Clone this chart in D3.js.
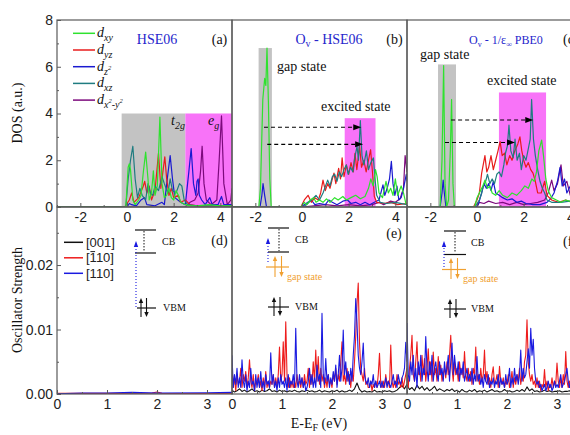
<!DOCTYPE html>
<html><head><meta charset="utf-8">
<script src="https://cdn.jsdelivr.net/npm/d3@7"></script>
<style>body{margin:0;background:#fff}svg{display:block}</style>
</head><body>
<script>
// ---------------- DATA ----------------
// DOS curves: [energy (eV), DOS (a.u.)]
const dosA_xy=[[-3,0],[-0.05,0],[0.05,1.7],[0.1,1.85],[0.15,1.6],[0.25,0.3],[0.35,0.1],[0.5,0.3],[0.6,0.5],[0.7,1.5],[0.8,2.35],[0.9,1.2],[0.95,0.3],[1.05,0.6],[1.13,1.55],[1.2,0.5],[1.3,0.9],[1.41,3.85],[1.5,1.0],[1.6,0.4],[1.7,0.5],[1.8,0.8],[1.9,0.4],[2.0,0.3],[2.1,0.7],[2.2,0.5],[2.3,0.2],[2.5,0.1],[2.7,0.05],[3.0,0.05],[3.5,0.1],[4.0,0.05],[4.5,0.05]];
const dosA_yz=[[-3,0],[-0.1,0],[0.1,0.3],[0.2,0.6],[0.3,0.2],[0.5,0.4],[0.7,0.9],[0.76,1.1],[0.85,0.6],[0.95,0.9],[1.05,0.3],[1.2,0.7],[1.35,2.3],[1.45,0.8],[1.55,1.6],[1.62,2.15],[1.7,1.2],[1.8,0.5],[1.9,0.8],[2.0,0.4],[2.2,0.5],[2.3,0.2],[2.5,0.3],[2.7,0.1],[3.0,0.05],[4.5,0.05]];
const dosA_z2=[[-3,0],[0,0],[0.1,0.15],[0.2,0.1],[0.4,0.05],[0.6,0.3],[0.75,0.4],[0.85,0.1],[1.2,0.05],[1.5,0.2],[1.6,0.1],[1.75,1.4],[1.85,2.2],[1.95,1.2],[2.05,0.4],[2.3,0.2],[2.5,0.1],[2.65,1.5],[2.75,2.5],[2.85,1.0],[2.95,0.5],[3.0,1.1],[3.05,1.2],[3.1,0.5],[3.2,0.3],[3.35,0.1],[3.55,0.4],[3.65,0.1],[3.9,0.1],[4.05,0.45],[4.15,0.1],[4.5,0.1]];
const dosA_xz=[[-3,0],[-0.05,0],[0.05,1.2],[0.15,2.0],[0.25,2.6],[0.35,1.2],[0.45,0.4],[0.55,0.8],[0.65,0.5],[0.8,0.3],[0.9,1.0],[1.0,0.6],[1.1,0.5],[1.2,0.9],[1.35,0.7],[1.5,1.3],[1.6,1.0],[1.75,0.6],[1.85,1.2],[1.95,0.7],[2.1,0.6],[2.25,1.0],[2.35,0.9],[2.45,0.3],[2.6,0.1],[3,0.05],[4.5,0.05]];
const dosA_x2y2=[[-3,0],[2.5,0],[2.7,0.2],[2.9,0.3],[3.05,0.6],[3.15,1.5],[3.22,2.6],[3.3,1.0],[3.4,0.3],[3.6,0.1],[3.85,0.3],[3.95,2.0],[4.05,3.9],[4.15,1.0],[4.3,0.1],[4.45,0.3],[4.5,0.8]];

const dosB_xy=[[-3,0],[-1.85,0],[-1.78,0.8],[-1.68,4.6],[-1.6,5.5],[-1.55,5.2],[-1.5,6.8],[-1.44,4.5],[-1.38,1.2],[-1.32,0],[-0.05,0],[0.1,0.2],[0.2,0.1],[0.35,0.3],[0.5,0.4],[0.6,0.2],[0.75,0.3],[0.9,0.2],[1.05,0.35],[1.2,0.2],[1.4,0.4],[1.55,0.3],[1.75,0.45],[1.9,0.3],[2.1,0.4],[2.3,0.5],[2.5,0.35],[2.7,0.45],[2.85,0.8],[2.95,1.2],[3.05,0.9],[3.15,1.6],[3.22,1.3],[3.3,0.6],[3.45,0.4],[3.6,1.1],[3.7,0.6],[3.8,0.8],[3.9,0.5],[4.0,1.2],[4.1,0.5],[4.25,0.9],[4.35,0.6],[4.45,0.15],[4.5,0.1]];
const dosB_yz=[[-3,0],[-0.05,0],[0.1,0.3],[0.26,0.5],[0.4,0.2],[0.55,0.4],[0.7,0.3],[0.8,0.6],[0.9,1.15],[1.0,0.7],[1.1,1.0],[1.2,0.8],[1.3,1.2],[1.37,1.45],[1.45,1.0],[1.57,1.65],[1.65,1.2],[1.72,2.1],[1.8,1.3],[1.9,1.8],[2.0,1.4],[2.1,1.9],[2.2,1.5],[2.27,2.3],[2.35,1.6],[2.47,2.6],[2.55,1.7],[2.65,2.0],[2.75,1.5],[2.85,2.0],[2.94,2.45],[3.02,1.5],[3.1,0.45],[3.2,0.2],[3.5,0.15],[3.8,0.2],[4.1,0.1],[4.5,0.15]];
const dosB_z2=[[-3,0],[-1.8,0],[-1.72,0.5],[-1.67,1.0],[-1.6,0.5],[-1.52,0],[-0.05,0],[0.1,0.1],[0.25,0.2],[0.4,0.3],[0.55,0.1],[0.75,0.15],[1.0,0.1],[1.15,0.3],[1.3,0.2],[1.5,0.1],[1.75,0.25],[1.95,0.3],[2.1,0.15],[2.3,0.2],[2.5,0.1],[2.7,0.2],[2.9,0.1],[3.1,0.2],[3.3,0.3],[3.47,0.95],[3.55,0.5],[3.65,0.8],[3.75,1.2],[3.83,1.95],[3.9,1.0],[3.98,0.5],[4.07,0.9],[4.15,0.3],[4.25,0.4],[4.35,0.8],[4.47,1.4],[4.5,1.1]];
const dosB_xz=[[-3,0],[0,0],[0.2,0.1],[0.4,0.3],[0.6,0.5],[0.75,0.3],[0.9,0.6],[1.1,1.15],[1.2,0.9],[1.3,1.3],[1.4,1.4],[1.5,1.1],[1.6,1.5],[1.7,1.3],[1.8,1.6],[1.9,1.8],[1.98,1.4],[2.08,1.7],[2.18,1.5],[2.26,2.1],[2.36,2.6],[2.42,2.0],[2.5,3.7],[2.57,2.2],[2.65,1.8],[2.76,2.4],[2.85,1.6],[2.95,1.9],[3.06,2.1],[3.13,1.2],[3.2,0.5],[3.35,0.2],[3.6,0.15],[4.0,0.2],[4.5,0.1]];
const dosB_x2y2=[[-3,0],[0,0],[0.5,0.05],[1.0,0.1],[1.5,0.05],[2.0,0.1],[2.5,0.05],[3.0,0.1],[3.3,0.2],[3.5,0.1],[3.8,0.25],[4.0,0.2],[4.2,0.35],[4.35,0.8],[4.42,2.2],[4.5,1.5]];

const dosC_xy=[[-3,0],[-1.58,0],[-1.5,2.0],[-1.43,6.05],[-1.37,1.0],[-1.3,0],[-1.22,0.3],[-1.14,2.5],[-1.09,4.6],[-1.03,1.0],[-0.97,0],[-0.1,0],[0.0,0.4],[0.15,0.7],[0.25,0.9],[0.34,1.15],[0.45,0.8],[0.55,0.9],[0.65,0.6],[0.8,0.5],[0.95,0.7],[1.1,0.5],[1.3,0.4],[1.5,0.6],[1.7,0.5],[1.9,0.7],[2.05,0.9],[2.2,0.8],[2.35,1.2],[2.45,1.1],[2.55,1.5],[2.65,2.4],[2.77,2.86],[2.85,2.2],[2.95,1.2],[3.05,0.7],[3.2,0.4],[3.4,0.3],[3.6,0.2],[3.8,0.3],[4.1,0.2],[4.5,0.1]];
const dosC_yz=[[-3,0],[-0.15,0],[0.0,0.3],[0.1,0.6],[0.2,1.45],[0.34,2.2],[0.42,1.5],[0.5,1.7],[0.6,2.2],[0.7,1.6],[0.8,2.0],[0.9,2.4],[0.99,2.8],[1.08,2.2],[1.18,2.3],[1.28,1.8],[1.4,2.2],[1.5,2.0],[1.62,2.4],[1.75,2.7],[1.84,3.0],[1.92,2.4],[2.0,2.0],[2.1,1.7],[2.2,1.9],[2.3,1.6],[2.4,1.45],[2.5,1.1],[2.6,0.6],[2.75,0.6],[2.9,1.1],[3.0,0.5],[3.2,0.3],[3.5,0.2],[3.8,0.3],[4.2,0.15],[4.5,0.2]];
const dosC_z2=[[-3,0],[-1.58,0],[-1.5,0.6],[-1.45,1.15],[-1.4,0.6],[-1.33,0],[-0.05,0],[0.05,0.1],[0.2,0.6],[0.3,1.0],[0.4,0.8],[0.5,1.0],[0.6,0.7],[0.7,1.1],[0.8,0.6],[0.95,0.5],[1.1,0.4],[1.3,0.3],[1.5,0.35],[1.7,0.2],[1.9,0.25],[2.1,0.15],[2.4,0.1],[2.7,0.1],[3.0,0.2],[3.15,0.35],[3.3,0.6],[3.45,1.1],[3.56,1.7],[3.65,0.9],[3.75,1.2],[3.85,0.6],[4.0,0.9],[4.15,0.4],[4.3,0.7],[4.5,0.4]];
const dosC_xz=[[-3,0],[-0.1,0],[0.1,0.3],[0.2,0.6],[0.27,0.9],[0.37,1.1],[0.45,1.4],[0.55,1.0],[0.65,1.2],[0.75,1.0],[0.85,1.4],[0.95,1.5],[1.05,1.3],[1.15,1.8],[1.22,2.3],[1.3,2.6],[1.37,3.5],[1.45,2.4],[1.55,2.1],[1.63,2.9],[1.72,2.0],[1.82,2.3],[1.9,1.6],[2.0,2.2],[2.1,2.0],[2.2,2.5],[2.28,2.9],[2.34,4.6],[2.42,2.9],[2.5,2.2],[2.6,1.6],[2.7,1.1],[2.8,0.8],[2.9,0.6],[3.0,0.3],[3.2,0.2],[3.6,0.2],[4.0,0.25],[4.5,0.2]];
const dosC_x2y2=[[-3,0],[0,0],[0.1,0.2],[0.3,0.15],[0.5,0.25],[0.8,0.15],[1.1,0.2],[1.4,0.1],[1.7,0.2],[2.0,0.1],[2.3,0.15],[2.6,0.2],[2.9,0.3],[3.05,0.6],[3.2,1.15],[3.3,0.7],[3.45,1.0],[3.6,1.8],[3.7,0.9],[3.85,1.1],[4.0,0.5],[4.2,0.4],[4.5,0.3]];

// shaded regions [E start, E end, DOS top]
const shadeA_gray=[-0.23,2.5,4], shadeA_mag=[2.5,4.5,4];
const shadeB_gray=[-1.86,-1.29,6.8], shadeB_mag=[1.83,3.15,3.8];
const shadeC_gray=[-1.67,-0.9,6.1], shadeC_mag=[0.94,2.96,4.9];
// dashed transition arrows [E from, E to, DOS level]
const arrowsB=[[-1.63,2.54,3.41],[-1.49,2.62,2.68]];
const arrowsC=[[-1.11,2.41,3.72],[-1.37,1.63,2.76]];

// Oscillator strength (units of 1e-3)
const oscD_001=[[0,0],[3.5,0]];
const oscD_1m10=[[0,0.1],[1.0,0.1],[1.9,0.15],[2.0,0.3],[2.1,0.1],[3.5,0.05]];
const oscD_110=[[0,0.05],[0.5,0.15],[1.0,0.15],[1.5,0.25],[2.0,0.15],[3.0,0.2],[3.5,0.25]];
const oscStep=0.025, oscStepBlack=0.05;
const oscE_1m10=[4.5,1,2.5,0.5,3,1.5,2,4,1,3, 2,3.5,1,2.5,5.3,2,1,3,0.5,2, 1.5,3,1,2,0.5,2.5,1,3.5,1,2, 1,2,1.5,3,1,2.5,1,3,7.3,2, 3,8.1,2,11.2,3,1,2.5,1,2,1, 2,1,3,1.5,2,1,2.5,1,3,1.5, 2,4,1,3,1.5,5,2,6.8,2,5.8, 1.5,4,2,3,1,2.5,1,3,1.5,2, 1,3,2,4,1.5,3,2,5,8.1,2, 3,1.5,4,2,3,1,3.5,2,5,9, 14,17.2,8,4,3,2,4,1.5,2,1, 1,2,0.5,1.5,1,2,1,3,6.3,1.5, 1,2,1,3,1.5,2,1,7.6,2,1, 2,1,3,1.5,2,1,2.5,1,2,3,4];
const oscE_110=[6,1,3,1.5,4,1,2.5,1,5.3,2, 1,3,0.5,2,1,4,1.5,2,0.5,3, 1,2.5,1,3.5,1,2,0.5,3,1.5,2, 1,6.4,1.5,3,1,2,0.5,2.5,1,3, 1.5,2,1,2.5,0.5,3,1,2,1.5,3, 1,10.2,2,1,3,1.5,2.5,1,2,0.5, 1,2,4,1.5,3,1,2.5,1,4.5,2, 3,1,12.5,3,1.5,5.5,2,3,1,2.5, 1.5,3.5,2,4.5,1,3,6,2,4,9.9, 3,5,2,3.5,1.5,4,2,6,9,14.8, 11,6,4,3,5,7.9,3,2,1.5,2.5, 1,2,1.5,3,1,2,1,1.5,2,1, 2,1,1.5,2.5,1,2,1.5,1,2,3, 1.5,2,1,3,2,1.5,2.5,3,4,8,5];
const oscE_001=[0.6,0.3,0.5,0.8,0.4,0.6,0.3,0.5,0.8,0.4, 0.5,0.3,0.6,0.4,0.5,0.8,0.4,0.5,0.3,0.6, 0.4,0.5,0.3,0.5,0.4,0.6,0.4,0.3,0.5,0.4, 0.6,0.4,0.5,0.3,0.4,0.6,0.3,0.5,0.4,0.3, 0.5,0.4,0.6,0.3,0.5,0.3,0.4,0.6,0.4,0.8, 1.7,0.7,0.3,0.5,0.3,0.4,0.3,0.6,0.3,0.4, 0.3,0.5,0.4,0.5,0.3,0.4,0.6,1.0,1.3,0.8,1.5];
const oscF_1m10=[3,1,4,6,9.1,3,2,5,8.1,3, 4,2,6,3,5.5,2,4,7,3,5, 2,6.5,3,4,2,5.8,3,4.5,2,3, 4,2.5,5,3,6,9.1,4,2,5,3, 4,2,5,3,4,2.5,6.6,3,2,4, 2,3.5,1.5,4,3,7.3,2,3,1.5,4, 2,3,6.8,2,3.5,1.5,2.5,1,3,4.2, 1.5,2,3,1,4.3,2,1.5,2.5,1,2, 1.5,3,1,2,3.5,1,2.5,1.5,3,2, 4,1.5,3,2,5,6,11.5,5,3,2, 3,1.5,2,1,2.5,1,2,0.5,1.5,1, 3.8,1,2,0.5,1.5,1,2.5,1,2,1.5, 4.8,2,1,2.5,1,3,1.5,6.6,2,1, 2,1,3,1.5,2,1,2.5,1,2,3,2];
const oscF_110=[11,3,2,5,3,6,2,4,1,5, 3,6,2,4,3,8.9,4,2,5,3, 6,2,4,5,3,2,5,3,4,2, 5,3,4,6,2,5,7.9,3,6,4, 3,5,2,4,3,5,2,3,4,2, 3,2,4,1.5,3,2,5.8,2,3,1.5, 2.5,1,3,2,1.5,3,1,2,1.5,2.5, 1,2,1.5,3,1,2.5,1.5,2,1,3, 1.5,2,4,1,2.5,1.5,4,2,3,1.5, 3,6.8,2,4,2.5,3,5,7,4,10.2, 6,8.5,4,2,1.5,2,1,1.5,0.5,1, 1.5,0.5,1,2,1,1.5,0.5,1,2,1, 1.5,1,2,3,1,1.5,2,3,4,2, 1,2,1.5,2.5,1,2,1.5,1,2,1.5,2];
const oscF_001=[1.4,0.7,1.0,0.5,1.4,0.8,1.2,0.6,1.0,0.5, 0.8,1.2,0.5,0.8,0.6,0.4,0.7,0.5,0.8,0.4, 0.6,0.3,0.7,0.4,0.3,0.6,0.4,0.7,0.3,0.5, 0.4,0.6,0.3,0.5,0.7,0.4,0.5,0.3,0.4,0.7, 0.4,0.5,0.3,0.4,0.6,0.4,0.7,0.4,1.1,0.5, 0.8,0.4,0.5,0.3,0.4,0.6,0.4,0.5,0.3,0.4, 0.4,0.5,0.3,0.4,0.4,0.5,0.3,0.4,0.4,0.5,0.4];

const topTicks=[-2,0,2,4], topMinor=[-3,-1,1,3];
const botTicks=[0,1,2,3], botMinor=[0.5,1.5,2.5];
const dosTicks=[0,2,4,6,8], dosMinor=[1,3,5,7];
const oscTicks=[0,10,20], oscMinor=[5,15,25];

// ---------------- DRAW ----------------
const W=570,H=435;
const svg=d3.select("body").append("svg").attr("width",W).attr("height",H);
const serif="'Liberation Serif','Times New Roman',serif", sans="'Liberation Sans',Arial,sans-serif";
const lefts=[57,232,407], PW=175;
const yTop=d3.scaleLinear().domain([0,8]).range([207,20]);
const yBot=d3.scaleLinear().domain([0,29]).range([394,207]);
const xTop=lefts.map(l=>d3.scaleLinear().domain([-3,4.5]).range([l,l+PW]));
const xBot=lefts.map(l=>d3.scaleLinear().domain([0,3.5]).range([l,l+PW]));
const C={xy:"#2ee22e",yz:"#e81c1c",z2:"#1a1ad0",xz:"#1f7c80",x2y2:"#7d0a7d",gray:"#c3c3c3",mag:"#f873f8",
  k:"#111",r:"#ee1c1c",b:"#1a1ae0",orange:"#f0a030",title:"#2626cc",frame:"#5a5a5a"};

const defs=svg.append("defs");
lefts.forEach((l,i)=>{
  defs.append("clipPath").attr("id","ct"+i).append("rect").attr("x",l).attr("y",20).attr("width",PW).attr("height",187);
  defs.append("clipPath").attr("id","cb"+i).append("rect").attr("x",l).attr("y",207).attr("width",PW).attr("height",187);
});

const dosPanels=[
 {xy:dosA_xy,yz:dosA_yz,z2:dosA_z2,xz:dosA_xz,x2y2:dosA_x2y2,gray:shadeA_gray,mag:shadeA_mag,arrows:[]},
 {xy:dosB_xy,yz:dosB_yz,z2:dosB_z2,xz:dosB_xz,x2y2:dosB_x2y2,gray:shadeB_gray,mag:shadeB_mag,arrows:arrowsB},
 {xy:dosC_xy,yz:dosC_yz,z2:dosC_z2,xz:dosC_xz,x2y2:dosC_x2y2,gray:shadeC_gray,mag:shadeC_mag,arrows:arrowsC}];
const order=["x2y2","z2","yz","xz","xy"];

dosPanels.forEach((P,i)=>{
  const x=xTop[i];
  const g=svg.append("g").attr("clip-path",`url(#ct${i})`);
  [["gray",P.gray],["mag",P.mag]].forEach(([c,s])=>{
    g.append("rect").attr("x",x(s[0])).attr("width",x(s[1])-x(s[0]))
     .attr("y",yTop(s[2])).attr("height",yTop(0)-yTop(s[2])).attr("fill",C[c]);
  });
  const line=d3.line().x(d=>x(d[0])).y(d=>yTop(d[1]));
  order.forEach(k=>{
    g.append("path").attr("d",line(P[k])).attr("fill","none").attr("stroke",C[k]).attr("stroke-width",1.2).attr("stroke-linejoin","round");
  });
  P.arrows.forEach(a=>{
    const x1=x(a[0]),x2=x(a[1]),y=yTop(a[2]);
    g.append("line").attr("x1",x1).attr("x2",x2-6).attr("y1",y).attr("y2",y).attr("stroke","#000").attr("stroke-width",1.1).attr("stroke-dasharray","4,3");
    g.append("path").attr("d",`M${x2},${y}L${x2-8},${y-3}L${x2-8},${y+3}Z`).attr("fill","#000");
  });
});

const oscPanels=[
 {k:oscD_001,r:oscD_1m10,b:oscD_110},
 {k:oscE_001.map((v,j)=>[j*oscStepBlack,v]),r:oscE_1m10.map((v,j)=>[j*oscStep,v]),b:oscE_110.map((v,j)=>[j*oscStep,v])},
 {k:oscF_001.map((v,j)=>[j*oscStepBlack,v]),r:oscF_1m10.map((v,j)=>[j*oscStep,v]),b:oscF_110.map((v,j)=>[j*oscStep,v])}];
oscPanels.forEach((P,i)=>{
  const x=xBot[i];
  const g=svg.append("g").attr("clip-path",`url(#cb${i})`);
  const line=d3.line().x(d=>x(d[0])).y(d=>yBot(d[1]));
  ["k","r","b"].forEach(k=>{
    g.append("path").attr("d",line(P[k])).attr("fill","none").attr("stroke",C[k]).attr("stroke-width",1.1).attr("stroke-linejoin","round");
  });
});

// frames
lefts.forEach(l=>{
  svg.append("rect").attr("x",l).attr("y",20).attr("width",PW).attr("height",187).attr("fill","none").attr("stroke",C.frame).attr("stroke-width",1.2);
  svg.append("rect").attr("x",l).attr("y",207).attr("width",PW).attr("height",187).attr("fill","none").attr("stroke",C.frame).attr("stroke-width",1.2);
});

function styleAxis(sel){
  sel.select(".domain").remove();
  sel.selectAll("line").attr("stroke",C.frame);
  sel.selectAll("text").attr("font-family",sans).attr("font-size",14).attr("fill","#222");
}
lefts.forEach((l,i)=>{
  svg.append("g").attr("transform","translate(0,207)")
    .call(d3.axisBottom(xTop[i]).tickValues(topTicks).tickSize(-4).tickPadding(5).tickFormat(d=>String(d))).call(styleAxis);
  svg.append("g").attr("transform","translate(0,207)")
    .call(d3.axisBottom(xTop[i]).tickValues(topMinor).tickSize(-2).tickFormat("")).call(styleAxis);
  svg.append("g").attr("transform","translate(0,394)")
    .call(d3.axisBottom(xBot[i]).tickValues(botTicks).tickSize(-4).tickPadding(5).tickFormat(d=>String(d))).call(styleAxis);
  svg.append("g").attr("transform","translate(0,394)")
    .call(d3.axisBottom(xBot[i]).tickValues(botMinor).tickSize(-2).tickFormat("")).call(styleAxis);
});
svg.append("g").attr("transform","translate(57,0)")
  .call(d3.axisLeft(yTop).tickValues(dosTicks).tickSize(-4).tickPadding(4).tickFormat(d=>String(d))).call(styleAxis);
svg.append("g").attr("transform","translate(57,0)")
  .call(d3.axisLeft(yTop).tickValues(dosMinor).tickSize(-2).tickFormat("")).call(styleAxis);
svg.append("g").attr("transform","translate(57,0)")
  .call(d3.axisLeft(yBot).tickValues(oscTicks).tickSize(-4).tickPadding(4).tickFormat(d=>(d/1000).toFixed(2))).call(styleAxis);
svg.append("g").attr("transform","translate(57,0)")
  .call(d3.axisLeft(yBot).tickValues(oscMinor).tickSize(-2).tickFormat("")).call(styleAxis);

// axis titles
function txt(x,y,s,o={}){
  const t=svg.append("text").attr("x",x).attr("y",y).attr("font-family",o.ff||serif).attr("font-size",o.fs||14)
    .attr("fill",o.fill||"#111").attr("text-anchor",o.anchor||"start");
  if(o.italic) t.attr("font-style","italic");
  if(s!==null) t.text(s);
  return t;
}
svg.append("text").attr("transform","translate(22,113) rotate(-90)").attr("text-anchor","middle")
  .attr("font-family",serif).attr("font-size",14).attr("fill","#111").text("DOS (a.u.)");
svg.append("text").attr("transform","translate(22,300) rotate(-90)").attr("text-anchor","middle")
  .attr("font-family",serif).attr("font-size",14).attr("fill","#111").text("Oscillator Strength");
{
  const t=txt(319,428,null,{anchor:"middle"});
  t.append("tspan").text("E-E");
  t.append("tspan").attr("font-size",10).attr("dy",3).text("F");
  t.append("tspan").attr("dy",-3).text(" (eV)");
}

// panel titles
txt(157,43.5,"HSE06",{anchor:"middle",fill:C.title});
{
  const t=txt(329,43.5,null,{anchor:"middle",fill:C.title});
  t.append("tspan").text("O"); t.append("tspan").attr("font-size",10).attr("dy",3).text("v");
  t.append("tspan").attr("dy",-3).text(" - HSE06");
  const u=txt(506,43.5,null,{anchor:"middle",fill:C.title,fs:12});
  u.append("tspan").text("O"); u.append("tspan").attr("font-size",8).attr("dy",3).text("v");
  u.append("tspan").attr("dy",-3).text(" - 1/ε"); u.append("tspan").attr("font-size",8).attr("dy",3).text("∞");
  u.append("tspan").attr("dy",-3).text(" PBE0");
}
txt(219.5,43.5,"(a)",{anchor:"middle"});
txt(394.5,43.5,"(b)",{anchor:"middle"});
txt(563,43.5,"(c)",{});
txt(219.5,245,"(d)",{anchor:"middle"});
txt(394,238,"(e)",{anchor:"middle"});
txt(563,245.5,"(f)",{});

// region labels
{
  const t=txt(171,125,null,{italic:true});
  t.append("tspan").text("t"); t.append("tspan").attr("font-size",10).attr("dy",4).text("2g");
  const e=txt(208,125,null,{italic:true});
  e.append("tspan").text("e"); e.append("tspan").attr("font-size",10).attr("dy",4).text("g");
}
txt(277,71,"gap state"); txt(321,110.5,"excited state");
txt(420,58.5,"gap state"); txt(487,85,"excited state");

// DOS legend
const legDos=[["xy",[["xy"]]],["yz",[["yz"]]],["z2",[["z"],["2","sup"]]],["xz",[["xz"]]],["x2y2",[["x"],["2","sup"],["-y"],["2","sup"]]]];
legDos.forEach((L,j)=>{
  const y=33.3+j*16.7;
  svg.append("line").attr("x1",73).attr("x2",95).attr("y1",y).attr("y2",y).attr("stroke",C[L[0]]).attr("stroke-width",1.5);
  const t=txt(97,y+4,null,{italic:true});
  t.append("tspan").text("d");
  let cur=0;
  L[1].forEach(([s,kind])=>{
    const target=kind==="sup"?-1:4;
    const sz=kind==="sup"?6.5:10;
    t.append("tspan").attr("font-size",sz).attr("dy",target-cur).text(s);
    cur=target;
  });
});

// oscillator legend
const legOsc=[["k","[001]"],["r","[110]"],["b","[110]"]];
legOsc.forEach((L,j)=>{
  const y=242.3+j*15.5;
  svg.append("line").attr("x1",64).attr("x2",83).attr("y1",y).attr("y2",y).attr("stroke",C[L[0]]).attr("stroke-width",1.5);
  const t=txt(86,y+4.5,L[1],{ff:sans,fs:13,fill:"#222"});
  if(j===1){
    const node=t.node();
    const xs=node.getStartPositionOfChar(1).x, xe=node.getEndPositionOfChar(1).x;
    svg.append("line").attr("x1",xs+0.8).attr("x2",xe-0.8).attr("y1",y-6.2).attr("y2",y-6.2).attr("stroke","#222").attr("stroke-width",1);
  }
});

// energy-level diagrams
function hline(x1,x2,y,c){svg.append("line").attr("x1",x1).attr("x2",x2).attr("y1",y).attr("y2",y).attr("stroke",c).attr("stroke-width",1.2);}
function vline(x,y1,y2,c,dash,w){svg.append("line").attr("x1",x).attr("x2",x).attr("y1",y1).attr("y2",y2).attr("stroke",c).attr("stroke-width",w||1).attr("stroke-dasharray",dash||null);}
function head(x,tip,dir,c,s){ // dir -1 up, +1 down
  const b=tip-dir*(s||5);
  svg.append("path").attr("d",`M${x},${tip}L${x-2.2},${b}L${x+2.2},${b}Z`).attr("fill",c);
}
function spinPair(xa,xb,ytop,ybot,c){
  vline(xa,ybot,ytop+4,c,null,1.1); head(xa,ytop,-1,c);
  vline(xb,ytop,ybot-4,c,null,1.1); head(xb,ybot,1,c);
}
// (d)
hline(135,156,230,"#111"); hline(135,156,253,"#111"); vline(144,231,252,"#111","1.5,1.5");
vline(136,307,247,C.b,"1,2",1.1); head(136,241,-1,C.b,6);
hline(137,156,308,"#111"); spinPair(141,146.5,298,317,"#111");
txt(162,245,"CB",{fs:10}); txt(163,311,"VBM",{fs:10});
// (e)
hline(268,289,228,"#111"); hline(268,289,252,"#111"); vline(279,229,251,"#111","1.5,1.5");
head(268,238,-1,C.b,6); vline(268,246,264,C.b,"1,2",1.1);
hline(266,289,267,C.orange); spinPair(275,281.5,256,277,C.orange);
txt(287,280,"gap state",{fs:10,fill:C.orange});
hline(268,289,307,"#111"); spinPair(274,280,297,316,"#111");
txt(295,243,"CB",{fs:10}); txt(295,310,"VBM",{fs:10});
// (f)
hline(444,466,231,"#111"); hline(444,466,254.5,"#111"); vline(455,232,253,"#111","1.5,1.5");
head(444,241,-1,C.b,6); vline(444,248,268,C.b,"1,2",1.1);
hline(442,466,269.5,C.orange); spinPair(451,457.5,258,279,C.orange);
txt(463,282,"gap state",{fs:10,fill:C.orange});
hline(444,466,309,"#111"); spinPair(450,456,299,318,"#111");
txt(471,245.5,"CB",{fs:10}); txt(471,312,"VBM",{fs:10});
</script>
</body></html>
